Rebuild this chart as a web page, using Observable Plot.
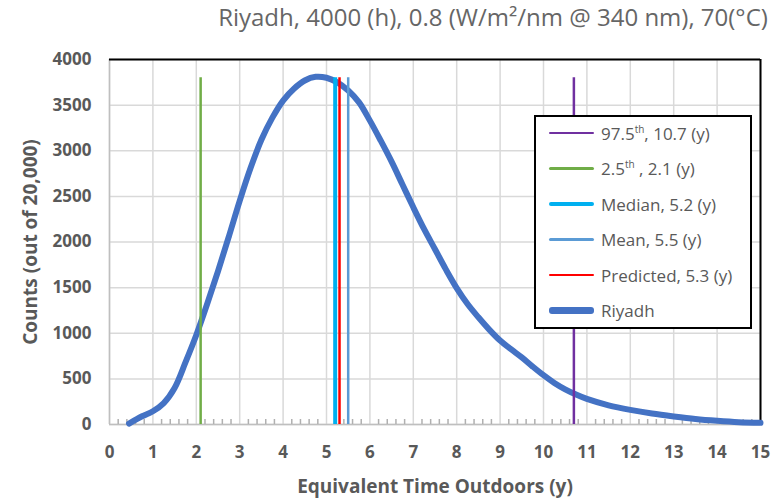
<!DOCTYPE html>
<html>
<head>
<meta charset="utf-8">
<script src="https://cdn.jsdelivr.net/npm/d3@7"></script>
<script src="https://cdn.jsdelivr.net/npm/@observablehq/plot@0.6"></script>
<style>
  html, body { margin: 0; padding: 0; background: #fff; }
  #wrap { position: relative; width: 772px; height: 499px; font-family: "Open Sans", sans-serif; color: #595959; }
  #title { position: absolute; top: 0px; left: 0; width: 772px; text-align: center; padding-left: 214px; box-sizing: border-box; font-size: 24px; white-space: nowrap; color: #666; }
  #legend { position: absolute; left: 534px; top: 115px; width: 214px; height: 210px; border: 2px solid #000; background: #fff; }
  .item { position: absolute; left: 13px; height: 22px; display: flex; align-items: center; font-size: 17px; white-space: nowrap; }
  .swatch { width: 45px; margin-right: 7px; border-radius: 3px; flex: none; }
  sup { font-size: 10px; vertical-align: 7px; line-height: 0; }
</style>
</head>
<body>
<div id="wrap">
  <div id="chart"></div>
  <div id="title"></div>
  <div id="legend"></div>
</div>
<script>
// ---- data ----
const titleText = "Riyadh, 4000 (h), 0.8 (W/m²/nm @ 340 nm), 70(°C)";
const xLabel = "Equivalent Time Outdoors (y)";
const yLabel = "Counts (out of 20,000)";
const seriesName = "Riyadh";

const curveX = [0.45, 0.75, 1.0, 1.25, 1.5, 1.75, 2.0, 2.25, 2.5, 2.75, 3.0, 3.25, 3.5, 3.75, 4.0, 4.25, 4.5, 4.75, 5.0, 5.25, 5.5, 5.75, 6.0, 6.25, 6.5, 6.75, 7.0, 7.25, 7.5, 7.75, 8.0, 8.25, 8.5, 8.75, 9.0, 9.25, 9.5, 9.75, 10.0, 10.25, 10.5, 10.75, 11.0, 11.5, 12.0, 12.5, 13.0, 13.5, 14.0, 14.5, 15.0];
const curveY = [10, 90, 145, 235, 400, 680, 980, 1320, 1680, 2060, 2450, 2810, 3120, 3360, 3550, 3680, 3770, 3810, 3800, 3750, 3660, 3530, 3330, 3110, 2880, 2630, 2380, 2140, 1920, 1700, 1495, 1320, 1175, 1040, 920, 825, 735, 635, 540, 455, 385, 328, 280, 210, 160, 120, 88, 60, 40, 25, 18];

const markerLabels = ["97.5<sup>th</sup>, 10.7 (y)", "2.5<sup>th</sup> , 2.1 (y)", "Median, 5.2 (y)", "Mean, 5.5 (y)", "Predicted, 5.3 (y)"];
const markerValues = [10.7, 2.1, 5.2, 5.5, 5.3];
const markerTop = 3800;

const xTicks = [0, 1, 2, 3, 4, 5, 6, 7, 8, 9, 10, 11, 12, 13, 14, 15];
const yTicks = [0, 500, 1000, 1500, 2000, 2500, 3000, 3500, 4000];
const xMinor = d3.range(0, 75).map(i => +(i * 0.2).toFixed(1)).filter(v => v % 1 !== 0);

// ---- styles (kept apart from data) ----
const markerColors = ["#7030A0", "#70AD47", "#00B0F0", "#5B9BD5", "#FF0000"];
const markerWidths = [2.5, 2.5, 4, 2.5, 2.5];
const curveColor = "#4472C4";
const textColor = "#595959";

const curve = curveX.map((x, i) => ({x, y: curveY[i]}));
const markers = markerValues.map((v, i) => ({v, color: markerColors[i], w: markerWidths[i]}));
const drawOrder = [markers[1], markers[2], markers[4], markers[3], markers[0]];

const plot = Plot.plot({
  width: 772,
  height: 499,
  marginLeft: 109,
  marginRight: 12,
  marginTop: 59,
  marginBottom: 75,
  style: {fontFamily: "'Open Sans', sans-serif", fontSize: "17px", fontWeight: "bold", color: textColor, background: "#fff"},
  x: {domain: [xTicks[0], xTicks[xTicks.length - 1]]},
  y: {domain: [yTicks[0], yTicks[yTicks.length - 1]]},
  marks: [
    Plot.gridX(xTicks, {stroke: "#d9d9d9", strokeOpacity: 1, strokeWidth: 1.5}),
    Plot.gridY(yTicks, {stroke: "#d9d9d9", strokeOpacity: 1, strokeWidth: 1.5}),
    Plot.ruleX([xTicks[0]], {stroke: "#bfbfbf", strokeWidth: 1.5}),
    Plot.ruleY([yTicks[0]], {stroke: "#bfbfbf", strokeWidth: 1.5}),
    Plot.ruleY([yTicks[yTicks.length - 1]], {stroke: "#000", strokeWidth: 2}),
    Plot.ruleX([xTicks[xTicks.length - 1]], {stroke: "#000", strokeWidth: 2}),
    Plot.axisX(xMinor, {tickSize: 5, dy: -5, stroke: "#b0b0b0", strokeWidth: 1.5, strokeOpacity: 1, fill: "none", label: null}),
    Plot.axisX(xTicks, {tickSize: 0, tickPadding: 21, fill: textColor, label: null, tickFormat: d => String(d)}),
    Plot.axisY(yTicks, {tickSize: 0, tickPadding: 18, fill: textColor, label: null, tickFormat: d => String(d)}),
    Plot.line(curve, {x: "x", y: "y", stroke: curveColor, strokeWidth: 6, curve: "catmull-rom", strokeLinecap: "round"}),
    Plot.ruleX(drawOrder, {x: "v", y1: 0, y2: markerTop, stroke: d => d.color, strokeWidth: d => d.w}),
    Plot.text([yLabel], {frameAnchor: "left", textAnchor: "middle", lineAnchor: "middle", dx: -79, rotate: -90, fill: textColor, fontSize: 19}),
    Plot.text([xLabel], {frameAnchor: "bottom", textAnchor: "middle", lineAnchor: "middle", dy: 62, fill: textColor, fontSize: 19})
  ]
});
document.getElementById("chart").appendChild(plot);

document.getElementById("title").textContent = titleText;

// legend (HTML overlay)
const legend = document.getElementById("legend");
const entries = markerLabels.map((t, i) => ({html: t, color: markerColors[i], w: markerWidths[i]}))
  .concat([{html: seriesName, color: curveColor, w: 7}]);
entries.forEach((e, i) => {
  const div = document.createElement("div");
  div.className = "item";
  div.style.top = (5 + i * 35.5) + "px";
  div.innerHTML = `<span class="swatch" style="height:${e.w}px;background:${e.color}"></span><span>${e.html}</span>`;
  legend.appendChild(div);
});
</script>
</body>
</html>
